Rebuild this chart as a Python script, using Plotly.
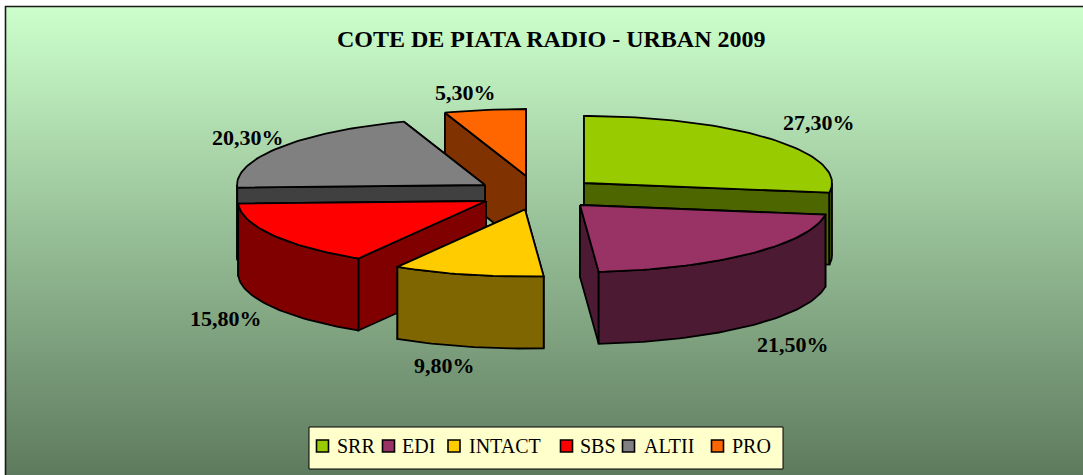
import math
import plotly.graph_objects as go

# ---- data ----
categories = ["SRR", "EDI", "INTACT", "SBS", "ALTII", "PRO"]
shares = [27.3, 21.5, 9.8, 15.8, 20.3, 5.3]
top_colors = ["#99CC00", "#993366", "#FFCC00", "#FF0000", "#808080", "#FF6600"]
wall_colors = ["#4D6600", "#4D1A33", "#806600", "#800000", "#404040", "#803300"]
title_text = "COTE DE PIATA RADIO - URBAN 2009"

# ---- layout constants (pixels of the 1083x475 page) ----
W, H = 1083, 475
RX, RY, DEPTH = 248, 67, 72
apex = {"SRR": (584, 183), "EDI": (580, 205), "INTACT": (525, 209.5),
        "SBS": (486, 201), "ALTII": (485, 185), "PRO": (526, 176)}
label_pos = {"SRR": (819, 122), "EDI": (793, 344), "INTACT": (444, 365),
             "SBS": (226, 318), "ALTII": (248, 137), "PRO": (465, 92)}
legend_sym_x = [322.5, 388.5, 454, 566.5, 628.5, 717.5]
legend_txt_x = [335, 400, 467, 578, 642, 730]
legend_box = (309, 427, 783, 469)
legend_y = 446
draw_order = ["PRO", "ALTII", "SBS", "INTACT", "SRR", "EDI"]

fig = go.Figure()


def poly(xs, ys, fill, width=1.8):
    fig.add_trace(go.Scatter(
        x=list(xs) + [xs[0]], y=list(ys) + [ys[0]], mode="lines", fill="toself",
        fillcolor=fill, line=dict(color="black", width=width),
        hoverinfo="skip", showlegend=False))


# background panel with vertical gradient
fig.add_trace(go.Scatter(
    x=[6, W, W, 6, 6], y=[7, 7, H, H, 7], mode="lines", fill="toself",
    line=dict(width=0, color="rgba(0,0,0,0)"),
    fillgradient=dict(type="vertical", colorscale=[[0, "#5E7A5E"], [1, "#CCFFCC"]]),
    hoverinfo="skip", showlegend=False))
fig.add_trace(go.Scatter(
    x=[5.5, 5.5, W], y=[H, 6.5, 6.5], mode="lines",
    line=dict(color="#1a1a1a", width=1.6), hoverinfo="skip", showlegend=False))

# cumulative angles from the shares
total = sum(shares)
angles = {}
acc = 0.0
for name, v in zip(categories, shares):
    angles[name] = (acc / total * 360, (acc + v) / total * 360)
    acc += v


def rim(name, a):
    cx, cy = apex[name]
    r = math.radians(a)
    return cx + RX * math.sin(r), cy - RY * math.cos(r)


def arc(name, a0, a1):
    n = max(2, int(abs(a1 - a0) / 1.5) + 2)
    return [rim(name, a0 + (a1 - a0) * i / (n - 1)) for i in range(n)]


for name in draw_order:
    i = categories.index(name)
    a0, a1 = angles[name]
    cx, cy = apex[name]
    top, wall = top_colors[i], wall_colors[i]
    # radial walls: the one that faces away first
    radials = [a1, a0] if a0 > 180 else [a0, a1]
    for a in radials:
        x, y = rim(name, a)
        poly([cx, x, x, cx], [cy, y, y + DEPTH, cy + DEPTH], wall)
    # curved outer wall: only the front half of the rim
    f0, f1 = max(a0, 90), min(a1, 270)
    if f1 > f0:
        pts = arc(name, f0, f1)
        poly([p[0] for p in pts] + [p[0] for p in reversed(pts)],
             [p[1] for p in pts] + [p[1] + DEPTH for p in reversed(pts)], wall)
    # top face
    pts = [(cx, cy)] + arc(name, a0, a1)
    poly([p[0] for p in pts], [p[1] for p in pts], top)

# legend box, swatches and names
x0, y0, x1, y1 = legend_box
poly([x0, x1, x1, x0], [y0, y0, y1, y1], "#FFFFCC", width=1)
fig.add_trace(go.Scatter(
    x=legend_sym_x, y=[legend_y] * len(categories), mode="markers",
    marker=dict(symbol="square", size=12, color=top_colors,
                line=dict(color="black", width=1.6)),
    hoverinfo="skip", showlegend=False))

annotations = [dict(
    x=550.5, y=39, xref="x", yref="y", text=f"<b>{title_text}</b>", showarrow=False,
    font=dict(family="Liberation Serif", size=24, color="black"))]
for name, v in zip(categories, shares):
    lx, ly = label_pos[name]
    annotations.append(dict(
        x=lx, y=ly, xref="x", yref="y", showarrow=False,
        text="<b>" + f"{v:.2f}".replace(".", ",") + "%</b>",
        font=dict(family="Liberation Serif", size=22, color="black")))
for name, tx in zip(categories, legend_txt_x):
    annotations.append(dict(
        x=tx, y=legend_y, xref="x", yref="y", xanchor="left", showarrow=False,
        text=name, font=dict(family="Liberation Serif", size=20, color="black")))

fig.update_layout(
    width=W, height=H, margin=dict(l=0, r=0, t=0, b=0), autosize=False,
    paper_bgcolor="white", plot_bgcolor="white", showlegend=False,
    xaxis=dict(range=[0, W], visible=False, fixedrange=True),
    yaxis=dict(range=[H, 0], visible=False, fixedrange=True),
    annotations=annotations)

fig.write_html("out.html", config={"displayModeBar": False},
               post_script="document.body.style.margin='0';document.body.style.overflow='hidden';")
